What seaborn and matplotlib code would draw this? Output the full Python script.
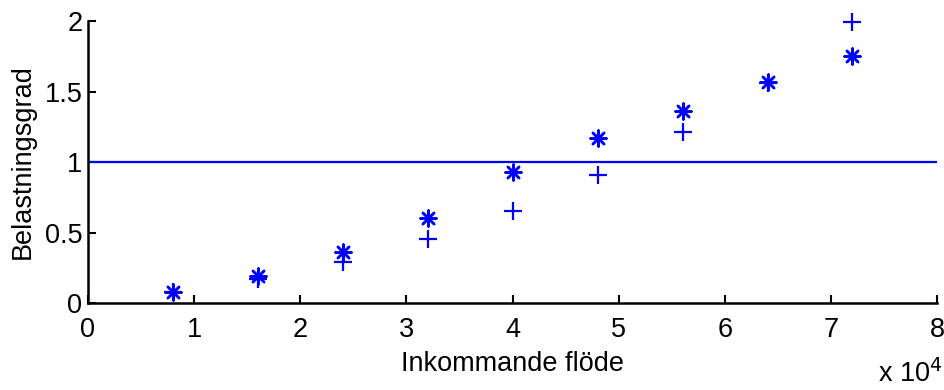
import matplotlib
matplotlib.use("Agg")
import matplotlib.pyplot as plt
import seaborn as sns
import pandas as pd

flow = [8000, 16000, 24000, 32000, 40000, 48000, 56000, 64000, 72000]
load_star = [0.08, 0.19, 0.36, 0.60, 0.93, 1.17, 1.36, 1.565, 1.75]
load_plus = [0.08, 0.17, 0.29, 0.455, 0.655, 0.905, 1.21, 1.56, 1.99]
xticks = [0, 10000, 20000, 30000, 40000, 50000, 60000, 70000, 80000]
xticklabels = ["0", "1", "2", "3", "4", "5", "6", "7", "8"]
yticks = [0, 0.5, 1, 1.5, 2]
yticklabels = ["0", "0.5", "1", "1.5", "2"]

sns.set_theme(style="ticks")
plt.rcParams['font.family'] = ['Liberation Sans', 'DejaVu Sans']
plt.rcParams['text.color'] = 'black'
plt.rcParams['axes.labelcolor'] = 'black'

df_star = pd.DataFrame({"flow": flow, "load": load_star})
df_plus = pd.DataFrame({"flow": flow, "load": load_plus})

fig = plt.figure(figsize=(9.45, 3.9), dpi=100)
ax = fig.add_axes([0.093, 0.223, 0.899, 0.723])

blue = "#0000ff"
sns.scatterplot(data=df_plus, x="flow", y="load", marker="+", s=170,
                color=blue, linewidth=1.6, ax=ax, zorder=3, clip_on=False)
sns.scatterplot(data=df_star, x="flow", y="load", marker=(8, 2, 0), s=130,
                color=blue, edgecolor=blue, linewidth=1.8, ax=ax, zorder=3,
                clip_on=False)
ax.axhline(1, color=blue, linewidth=1.6, zorder=2)

ax.set_xlim(0, 80000)
ax.set_ylim(0, 2)
ax.set_xticks(xticks)
ax.set_xticklabels(xticklabels)
ax.set_yticks(yticks)
ax.set_yticklabels(yticklabels)
ax.tick_params(direction="in", length=6, width=1.5, labelsize=19.5,
               colors="black", labelcolor="black")
ax.tick_params(axis="x", pad=10)
ax.tick_params(axis="y", pad=4)
for side in ["top", "right"]:
    ax.spines[side].set_visible(False)
for side in ["left", "bottom"]:
    ax.spines[side].set_linewidth(1.8)
    ax.spines[side].set_color("black")

ax.set_xlabel("Inkommande flöde", fontsize=19.5, labelpad=6, color="black")
ax.set_ylabel("Belastningsgrad", fontsize=19.5, labelpad=6, color="black")
fig.text(0.929, 0.004, "x 10$^4$", fontsize=19.5, ha="left", va="bottom",
         color="black")

fig.savefig("out.png", dpi=100, facecolor="white")
